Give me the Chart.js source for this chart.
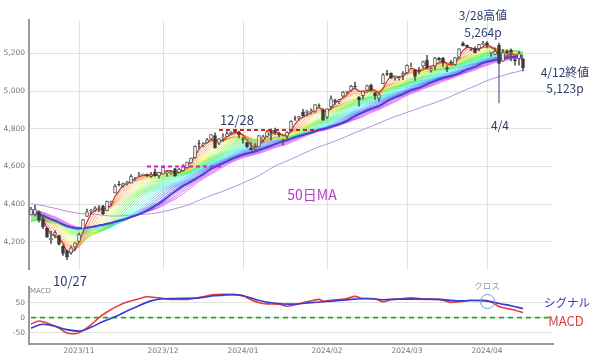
<!DOCTYPE html>
<html>
<head>
<meta charset="utf-8">
<script src="https://cdn.jsdelivr.net/npm/chart.js@4.4.1/dist/chart.umd.min.js"></script>
<style>
body { margin: 0; background: #fff; width: 600px; height: 358px; overflow: hidden; position: relative; font-family: "Noto Sans CJK JP", sans-serif; }
canvas { position: absolute; left: 0; }
#main { top: 0; }
#sub { top: 278px; }
.note { position: absolute; color: #2f3d6e; font-size: 12px; line-height: 1; white-space: nowrap; transform: translateX(-50%); }
.circle { position: absolute; box-sizing: border-box; width: 15px; height: 15px; border: 1.3px solid #6fa0dc; border-radius: 50%; }
</style>
</head>
<body>
<canvas id="main" width="600" height="278"></canvas>
<canvas id="sub" width="600" height="82"></canvas>

<div class="note" style="left:483px;top:9px">3/28高値</div>
<div class="note" style="left:483px;top:26px">5,264p</div>
<div class="note" style="left:565px;top:66px">4/12終値</div>
<div class="note" style="left:565px;top:82px">5,123p</div>
<div class="note" style="left:500px;top:119px">4/4</div>
<div class="note" style="left:237px;top:113px;font-size:13px">12/28</div>
<div class="note" style="left:70px;top:274px;font-size:13px">10/27</div>
<div class="note" style="left:312px;top:187px;font-size:14px;color:#b23ec6">50日MA</div>
<div class="note" style="left:487px;top:281px;font-size:8.5px;color:#7ea0c8">クロス</div>
<div class="note" style="left:567px;top:297px;font-size:11.5px;color:#3a36c8">シグナル</div>
<div class="note" style="left:566px;top:314px;font-size:13px;color:#e03a3a">MACD</div>
<div class="note" style="left:30px;top:288px;font-size:7px;color:#888;transform:none;font-family:'DejaVu Sans'">MACD</div>
<div class="circle" style="left:480px;top:294px"></div>

<script>
// trading days shown on the chart
const monthDays = [
    ['2023/10', [16, 17, 18, 19, 20, 23, 24, 25, 26, 27, 30, 31]],
    ['2023/11', [1, 2, 3, 6, 7, 8, 9, 10, 13, 14, 15, 16, 17, 20, 21, 22, 24, 27, 28, 29, 30]],
    ['2023/12', [1, 4, 5, 6, 7, 8, 11, 12, 13, 14, 15, 18, 19, 20, 21, 22, 26, 27, 28, 29]],
    ['2024/01', [2, 3, 4, 5, 8, 9, 10, 11, 12, 16, 17, 18, 19, 22, 23, 24, 25, 26, 29, 30, 31]],
    ['2024/02', [1, 2, 5, 6, 7, 8, 9, 12, 13, 14, 15, 16, 20, 21, 22, 23, 26, 27, 28, 29]],
    ['2024/03', [1, 4, 5, 6, 7, 8, 11, 12, 13, 14, 15, 18, 19, 20, 21, 22, 25, 26, 27, 28]],
    ['2024/04', [1, 2, 3, 4, 5, 8, 9, 10, 11, 12]]
];
// empty room on the right of the axis
const emptyDays = ['2024/04/15', '2024/04/16', '2024/04/17', '2024/04/18', '2024/04/19', '2024/04/22', '2024/04/23'];

// [open, high, low, close]
const ohlc = [
    // 2023/10
    [4342, 4383, 4342, 4373.6], [4345, 4393, 4337, 4373.2], [4357, 4364, 4303, 4314.6], [4321, 4340, 4269, 4278.0],
    [4273, 4276, 4223, 4224.2], [4211, 4255, 4190, 4217.0], [4235, 4259, 4220, 4247.7], [4232, 4233, 4181, 4186.8],
    [4175, 4183, 4127, 4137.2], [4152, 4156, 4104, 4117.4], [4140, 4177, 4132, 4166.8], [4171, 4195, 4154, 4193.8],
    // 2023/11
    [4201, 4245, 4197, 4237.9], [4268, 4319, 4268, 4317.8], [4334, 4373, 4334, 4358.3], [4365, 4372, 4347, 4366.0],
    [4366, 4386, 4361, 4378.4], [4384, 4392, 4359, 4382.8], [4391, 4393, 4344, 4347.4], [4364, 4416, 4363, 4415.2],
    [4406, 4415, 4395, 4411.6], [4459, 4503, 4459, 4495.7], [4505, 4521, 4496, 4502.9], [4497, 4511, 4488, 4508.2],
    [4510, 4521, 4500, 4514.0], [4511, 4557, 4511, 4547.4], [4538, 4542, 4526, 4538.2], [4553, 4569, 4545, 4556.6],
    [4555, 4560, 4552, 4559.3], [4554, 4561, 4546, 4550.4], [4546, 4568, 4541, 4554.9], [4571, 4587, 4547, 4550.6],
    [4549, 4569, 4538, 4567.8],
    // 2023/12
    [4559, 4599.4, 4557, 4594.6], [4564, 4575, 4547, 4569.8], [4566, 4579, 4558, 4567.2], [4587, 4590, 4547, 4549.3],
    [4568, 4590, 4566, 4585.6], [4577, 4610, 4575, 4604.4], [4593, 4623, 4590, 4622.4], [4618, 4644, 4617, 4643.7],
    [4646, 4709, 4644, 4707.1], [4721, 4739, 4694, 4719.6], [4714, 4726, 4705, 4719.2], [4726, 4749, 4725, 4740.6],
    [4744, 4769, 4743, 4768.4], [4764, 4779, 4697, 4698.4], [4724, 4748, 4716, 4746.8], [4753, 4773, 4737, 4754.6],
    [4758, 4785, 4758, 4774.8], [4773, 4785, 4768, 4781.6], [4786, 4793.3, 4781, 4783.4], [4782, 4788, 4751, 4769.8],
    // 2024/01
    [4745, 4755, 4723, 4742.8], [4726, 4729, 4700, 4704.8], [4697, 4726, 4687, 4688.7], [4690, 4721, 4683, 4697.2],
    [4703, 4764, 4703, 4763.5], [4741, 4766, 4730, 4756.5], [4759, 4791, 4757, 4783.5], [4792, 4799, 4740, 4780.2],
    [4791, 4803, 4769, 4783.8], [4773, 4783, 4757, 4766.0], [4740, 4744, 4714, 4739.2], [4760, 4785, 4740, 4780.9],
    [4796, 4842, 4785, 4839.8], [4853, 4868, 4844, 4850.4], [4856, 4866, 4845, 4864.6], [4888, 4903, 4866, 4868.6],
    [4886, 4898, 4869, 4894.2], [4888, 4906, 4882, 4891.0], [4892, 4929, 4887, 4927.9], [4925, 4932, 4917, 4924.5],
    [4900, 4907, 4845, 4845.7],
    // 2024/02
    [4862, 4906, 4854, 4906.2], [4917, 4975, 4907, 4958.6], [4950, 4958, 4927, 4942.8], [4945, 4957, 4934, 4954.2],
    [4973, 4999, 4970, 4995.1], [4995, 5000, 4987, 4997.9], [5004, 5031, 4999, 5026.6], [5027, 5048, 5016, 5021.8],
    [4968, 4971, 4920, 4953.2], [4976, 5002, 4957, 5000.6], [5004, 5032, 5002, 5029.7], [5032, 5038, 4999, 5005.6],
    [4989, 4993, 4955, 4975.5], [4963, 4983, 4946, 4981.8], [5039, 5094, 5038, 5087.0], [5093, 5111, 5082, 5088.8],
    [5094, 5097, 5068, 5069.5], [5075, 5080, 5058, 5078.2], [5068, 5078, 5058, 5069.8], [5085, 5104, 5061, 5096.3],
    // 2024/03
    [5098, 5140, 5094, 5137.1], [5130, 5149, 5127, 5131.0], [5110, 5114, 5057, 5078.7], [5108, 5127, 5092, 5104.8],
    [5133, 5160, 5125, 5157.4], [5164, 5190, 5117, 5123.7], [5111, 5125, 5101, 5117.9], [5134, 5179, 5114, 5175.3],
    [5174, 5180, 5163, 5165.3], [5175, 5180, 5131, 5150.5], [5124, 5136, 5104, 5117.1], [5154, 5164, 5146, 5149.4],
    [5140, 5180, 5138, 5178.5], [5181, 5226, 5172, 5224.6], [5254, 5262, 5240, 5241.5], [5243, 5246, 5229, 5234.2],
    [5220, 5229, 5216, 5218.2], [5228, 5235, 5203, 5203.6], [5226, 5249, 5214, 5248.5], [5249, 5264.9, 5245, 5254.4],
    // 2024/04
    [5257, 5263, 5229, 5243.8], [5205, 5208, 5184, 5205.8], [5195, 5228, 5195, 5211.5], [5244, 5256, 5146, 5147.2],
    [5159, 5222, 5158, 5204.3], [5212, 5220, 5198, 5202.4], [5217, 5225, 5160, 5209.9], [5167, 5179, 5138, 5160.6],
    [5172, 5211, 5138, 5199.1], [5171, 5176, 5107, 5123.4]
];

// closes before the first candle (2023/08/04 - 2023/10/13), only used for the moving averages
const priorCloses = [
    4478.0, 4518.4, 4499.4, 4467.7, 4468.8, 4464.1, 4489.7, 4437.9, 4404.3, 4370.4,
    4369.7, 4399.8, 4387.6, 4436.0, 4376.3, 4405.7, 4433.3, 4497.6, 4514.9, 4507.7,
    4515.8, 4496.8, 4465.5, 4451.1, 4457.5, 4487.5, 4461.9, 4467.4, 4505.1, 4450.3,
    4453.5, 4444.0, 4402.2, 4330.0, 4320.1, 4337.4, 4273.5, 4274.5, 4299.7, 4288.1,
    4288.4, 4229.5, 4263.8, 4258.2, 4308.5, 4335.7, 4358.2, 4377.0, 4349.6, 4327.8
];

const maPeriods = [3, 4, 5, 6, 7, 8, 9, 10, 11, 12, 13, 14, 15, 16, 17, 18, 19, 20, 21, 22, 23, 24, 25, 26, 27, 28, 29, 30];
const boldPeriod = 26;
const longPeriod = 50;

// MACD / signal
const macdPts = [
    ['2023/10/16', -22], ['2023/10/18', -11], ['2023/10/20', -18], ['2023/10/25', -35], ['2023/10/27', -51],
    ['2023/10/31', -54], ['2023/11/02', -43], ['2023/11/06', -24], ['2023/11/08', 0], ['2023/11/10', 19],
    ['2023/11/15', 41], ['2023/11/17', 52], ['2023/11/22', 63], ['2023/11/27', 70], ['2023/11/30', 66],
    ['2023/12/05', 61], ['2023/12/11', 61], ['2023/12/14', 67], ['2023/12/20', 77], ['2023/12/22', 78],
    ['2023/12/28', 77], ['2024/01/02', 73], ['2024/01/04', 60], ['2024/01/08', 50], ['2024/01/10', 46],
    ['2024/01/16', 45], ['2024/01/18', 38], ['2024/01/22', 43], ['2024/01/25', 53], ['2024/01/30', 61],
    ['2024/01/31', 55], ['2024/02/02', 58], ['2024/02/08', 64], ['2024/02/12', 71], ['2024/02/14', 64],
    ['2024/02/20', 63], ['2024/02/22', 53], ['2024/02/26', 60], ['2024/02/28', 62], ['2024/03/04', 66],
    ['2024/03/08', 62], ['2024/03/13', 61], ['2024/03/18', 51], ['2024/03/20', 53], ['2024/03/25', 58],
    ['2024/03/28', 56], ['2024/04/02', 52], ['2024/04/03', 45], ['2024/04/04', 37], ['2024/04/09', 28],
    ['2024/04/10', 25], ['2024/04/12', 17]
];
const signalPts = [
    ['2023/10/16', -35], ['2023/10/19', -22], ['2023/10/24', -29], ['2023/10/27', -40], ['2023/11/01', -45],
    ['2023/11/06', -32], ['2023/11/09', -13], ['2023/11/14', 3], ['2023/11/17', 22], ['2023/11/21', 34],
    ['2023/11/28', 56], ['2023/12/01', 63], ['2023/12/06', 64], ['2023/12/14', 66], ['2023/12/20', 73],
    ['2023/12/28', 77], ['2024/01/03', 70], ['2024/01/08', 57], ['2024/01/12', 48], ['2024/01/19', 45],
    ['2024/01/26', 50], ['2024/02/02', 55], ['2024/02/09', 61], ['2024/02/15', 64], ['2024/02/22', 60],
    ['2024/02/28', 62], ['2024/03/05', 62], ['2024/03/13', 61], ['2024/03/20', 56], ['2024/03/28', 58],
    ['2024/04/02', 54], ['2024/04/04', 47], ['2024/04/09', 40], ['2024/04/12', 30]
];

// dashed levels: [from, to, price, colour]
const levelLines = [
    ['2023/11/27', '2023/12/22', 4599, '#d21fd2'],
    ['2023/12/21', '2024/01/30', 4793, '#d42020']
];
const pointerLine = ['2024/04/04', 5150, 4935];

const priceTicks = [4200, 4400, 4600, 4800, 5000, 5200];
const macdTicks = [-50, 0, 50];

const labels = [];
monthDays.forEach(function (m) {
    m[1].forEach(d => labels.push(m[0] + '/' + String(d).padStart(2, '0')));
});
const axisLabels = labels.concat(emptyDays);

function monthStart(i) {
    return i > 0 && axisLabels[i].slice(0, 7) !== axisLabels[i - 1].slice(0, 7);
}

function sma(period) {
    let all = priorCloses.concat(ohlc.map(r => r[3]));
    let off = priorCloses.length;
    return ohlc.map(function (r, j) {
        let s = 0;
        for (let k = off + j - period + 1; k <= off + j; k++) s += all[k];
        return s / period;
    });
}

const tickFont = { family: 'DejaVu Sans', size: 7.5 };
const gridColor = '#e2e2e2';
const monthGrid = c => monthStart(c.index) ? gridColor : 'rgba(0,0,0,0)';
const fixWidth = s => { s.width = 29; };

let datasets = [];

datasets.push({
    type: 'bar', data: ohlc.map(r => [r[0], r[3]]), barThickness: 3, grouped: false,
    backgroundColor: ohlc.map(r => r[3] >= r[0] ? '#ffffff' : '#3b3b3b'),
    borderColor: ohlc.map(r => r[3] >= r[0] ? '#5a5a5a' : '#3b3b3b'),
    borderWidth: 1, borderSkipped: false, order: 0
});
datasets.push({
    type: 'bar', data: ohlc.map(r => [r[2], r[1]]), barThickness: 1, grouped: false,
    backgroundColor: '#5a5a5a', order: 1
});

maPeriods.forEach(function (p, n) {
    let hue = n / (maPeriods.length - 1) * 300;
    let bold = p === boldPeriod;
    datasets.push({
        type: 'line', data: sma(p), pointRadius: 0, tension: 0,
        borderColor: bold ? '#4b40d4' : (n === 0 ? '#e0301e' : 'hsl(' + hue + ',85%,62%)'),
        borderWidth: bold ? 2 : (n === 0 ? 1.3 : 0.7),
        order: bold ? 2 : 3 + n
    });
});

datasets.push({
    type: 'line', data: sma(longPeriod), pointRadius: 0, borderColor: '#b892e0', borderWidth: 1, order: 40
});

levelLines.forEach(function (l) {
    datasets.push({
        type: 'line', data: [{ x: l[0], y: l[2] }, { x: l[1], y: l[2] }], pointRadius: 0,
        borderColor: l[3], borderWidth: 2, borderDash: [4, 3], order: -1
    });
});
datasets.push({
    type: 'line', data: [{ x: pointerLine[0], y: pointerLine[1] }, { x: pointerLine[0], y: pointerLine[2] }],
    pointRadius: 0, borderColor: '#55608a', borderWidth: 1.2, order: -1
});

new Chart('main', {
    type: 'bar',
    data: { labels: axisLabels, datasets: datasets },
    options: {
        responsive: false,
        animation: false,
        layout: { padding: { top: 20, right: 47, bottom: 2, left: 0 } },
        plugins: { legend: { display: false }, tooltip: { enabled: false } },
        scales: {
            x: {
                offset: true,
                grid: { offset: false, drawTicks: false, color: monthGrid },
                ticks: { display: false, autoSkip: false },
                border: { display: false }
            },
            y: {
                min: 4052, max: 5378,
                afterBuildTicks: s => { s.ticks = priceTicks.map(v => ({ value: v })); },
                afterFit: fixWidth,
                grid: { color: gridColor, drawTicks: false },
                border: { color: '#9a9a9a', width: 2 },
                ticks: { padding: 4, font: tickFont, color: '#777', callback: v => v.toLocaleString('en-US') }
            }
        }
    }
});

new Chart('sub', {
    type: 'line',
    data: {
        labels: axisLabels,
        datasets: [
            { data: macdPts.map(p => ({ x: p[0], y: p[1] })), borderColor: '#e53b3b', borderWidth: 1.6, pointRadius: 0, cubicInterpolationMode: 'monotone', order: 1 },
            { data: signalPts.map(p => ({ x: p[0], y: p[1] })), borderColor: '#3a3ad2', borderWidth: 1.6, pointRadius: 0, cubicInterpolationMode: 'monotone', order: 0 },
            { data: axisLabels.map(() => 0), borderColor: '#2ca02c', borderWidth: 1.8, borderDash: [5, 4], pointRadius: 0, order: 2 }
        ]
    },
    options: {
        responsive: false,
        animation: false,
        layout: { padding: { top: 7, right: 47, bottom: 1, left: 0 } },
        plugins: { legend: { display: false }, tooltip: { enabled: false } },
        scales: {
            x: {
                offset: true,
                grid: { offset: false, drawTicks: false, color: monthGrid },
                border: { color: '#9a9a9a', width: 2 },
                ticks: {
                    autoSkip: false, maxRotation: 0, padding: 3, font: tickFont, color: '#777',
                    callback: (v, i) => monthStart(i) ? axisLabels[i].slice(0, 7) : null
                }
            },
            y: {
                min: -88, max: 104,
                afterBuildTicks: s => { s.ticks = macdTicks.map(v => ({ value: v })); },
                afterFit: fixWidth,
                grid: { color: gridColor, drawTicks: false },
                border: { color: '#9a9a9a', width: 2 },
                ticks: { padding: 4, font: tickFont, color: '#777' }
            }
        }
    }
});
</script>
</body>
</html>
